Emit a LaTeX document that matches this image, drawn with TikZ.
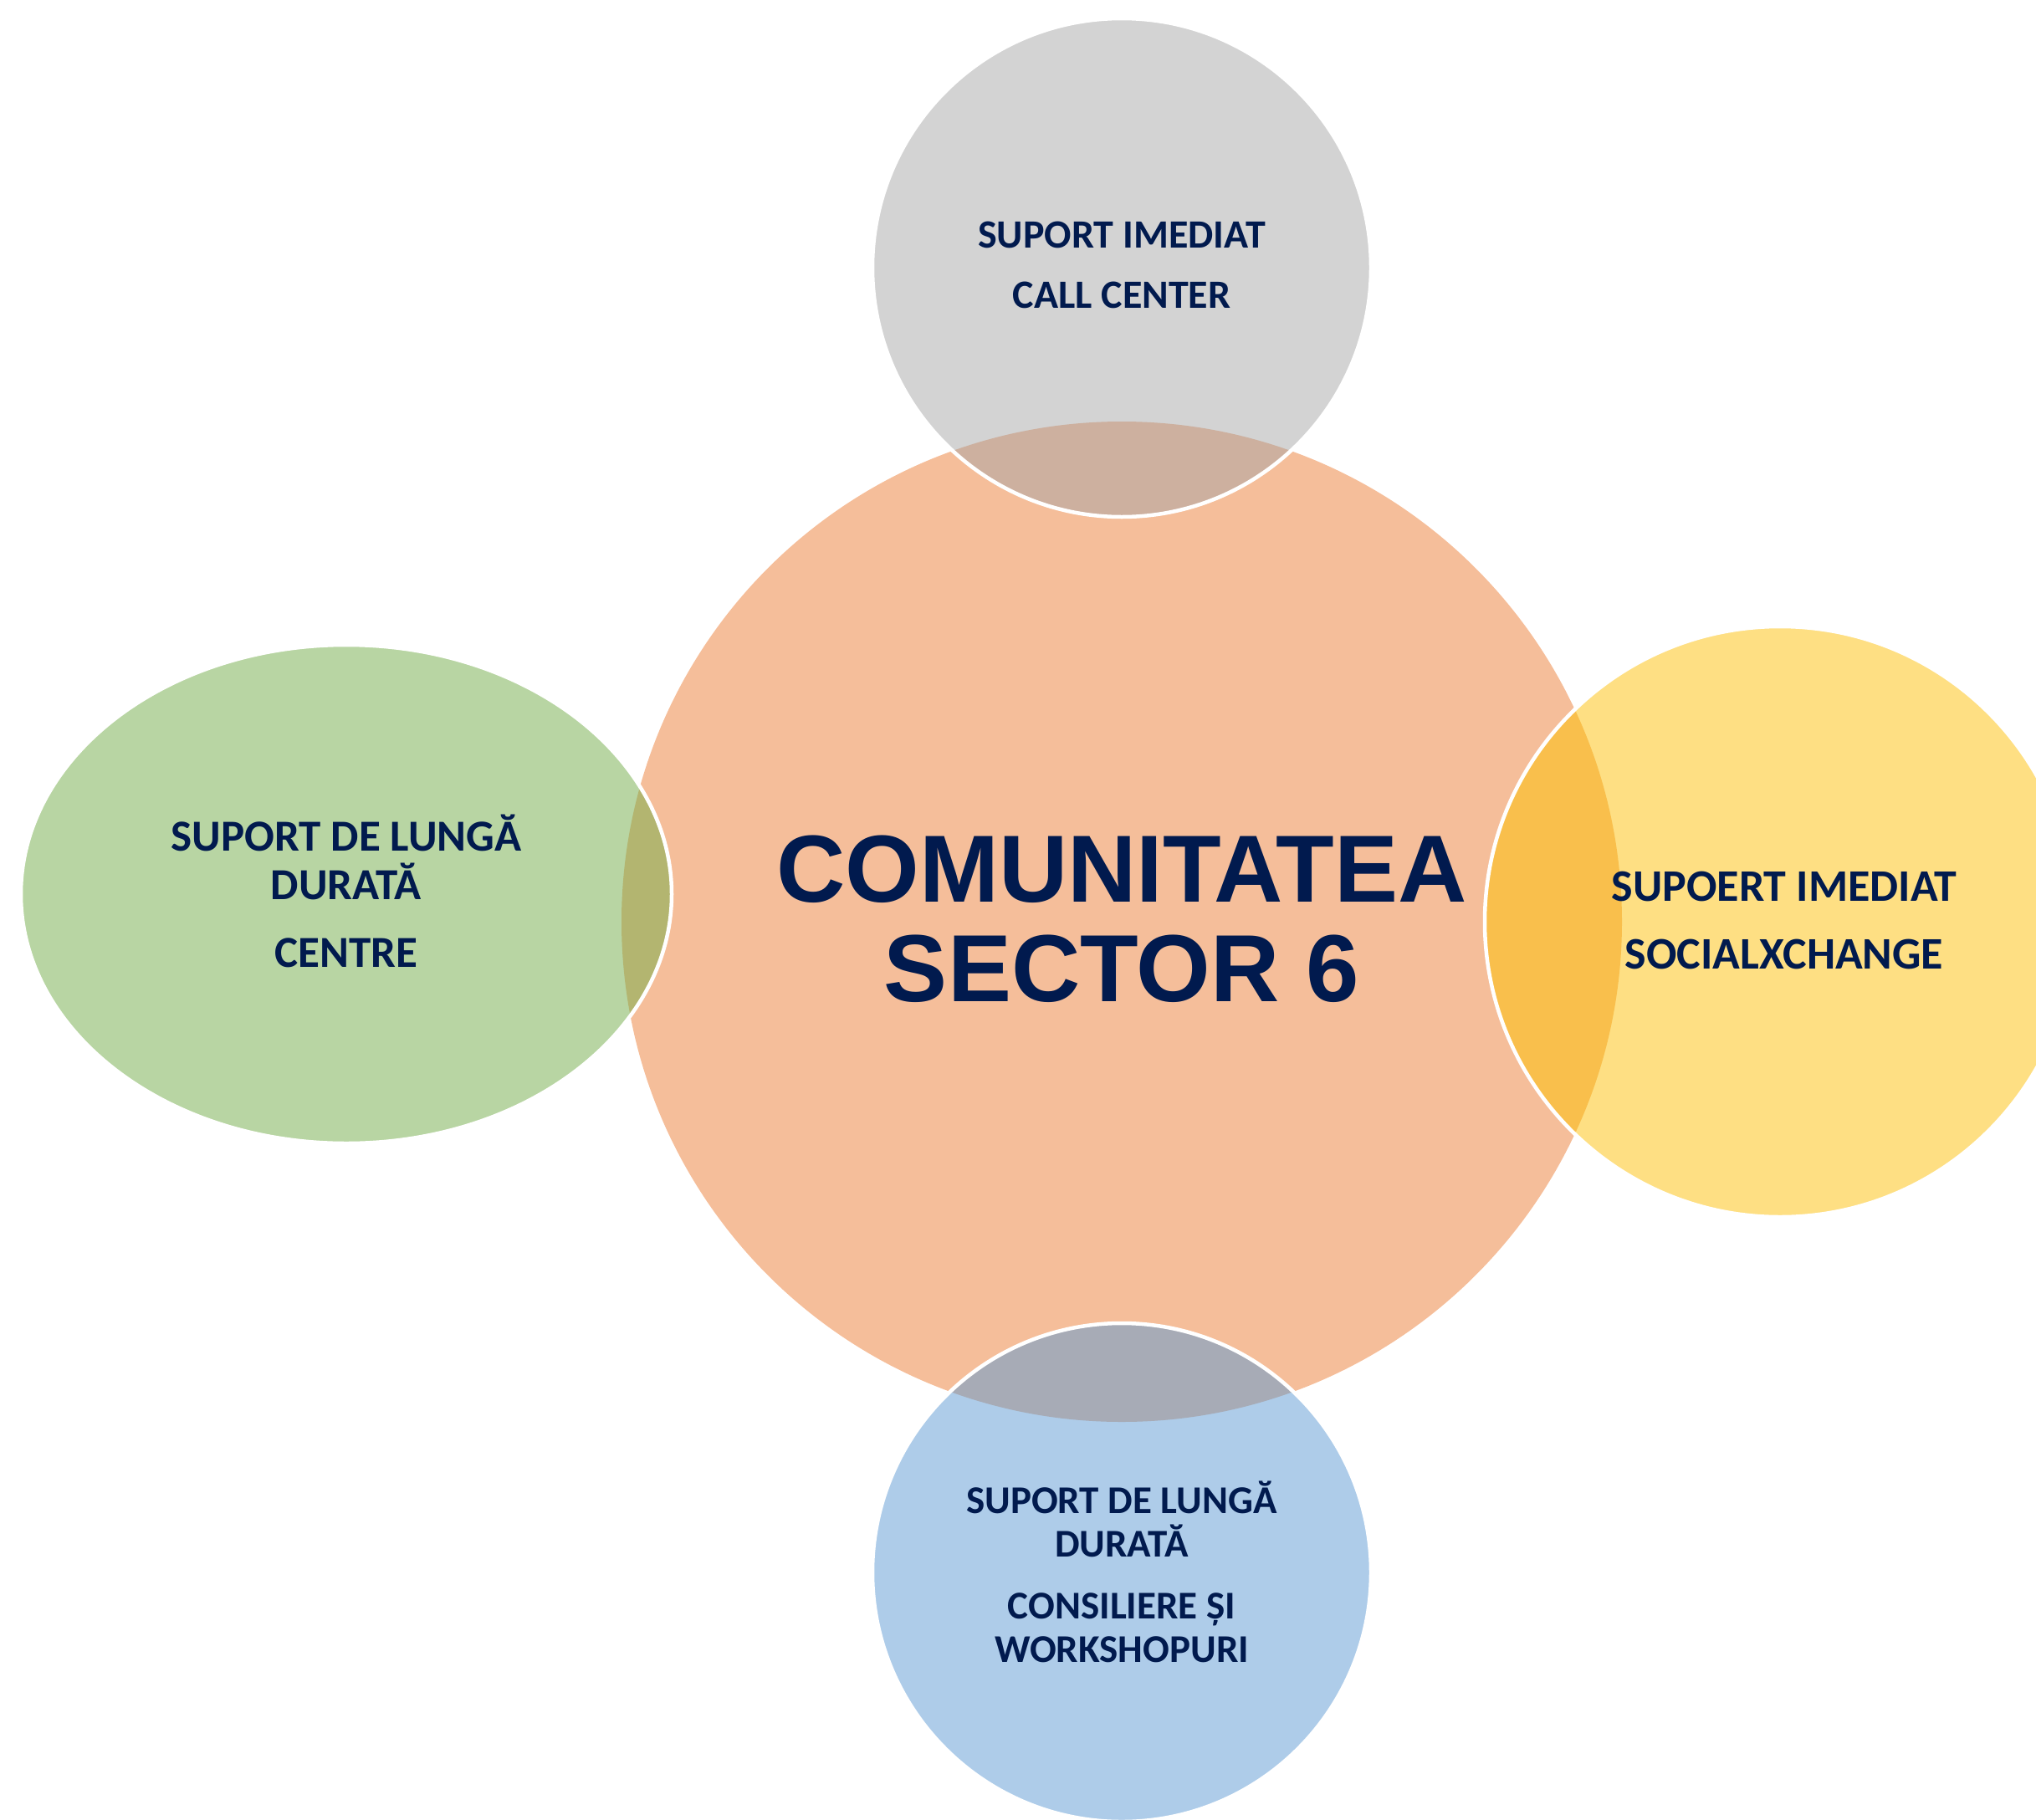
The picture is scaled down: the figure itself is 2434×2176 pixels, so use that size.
\documentclass[tikz,border=0pt]{standalone}
\usepackage{fontspec}
\setmainfont{Carlito}
\newfontfamily\arialfont{Liberation Sans}
\definecolor{navy}{HTML}{011A4E}
\definecolor{corefill}{HTML}{F5BE9A}
\definecolor{greyfill}{HTML}{D3D3D3}
\definecolor{greyov}{HTML}{CDB09F}
\definecolor{yellowfill}{HTML}{FEDF83}
\definecolor{yellowov}{HTML}{F9BF4C}
\definecolor{greenfill}{HTML}{B8D5A3}
\definecolor{greenov}{HTML}{B3B570}
\definecolor{bluefill}{HTML}{AECCE9}
\definecolor{blueov}{HTML}{A7ABB6}
\begin{document}
\begin{tikzpicture}[x=1pt,y=-1pt,
  lbl/.style={anchor=base,inner sep=0pt,text=navy,font=\bfseries\fontsize{#1}{#1}\selectfont},
  bigl/.style={anchor=base,inner sep=0pt,text=navy,font=\arialfont\bfseries\fontsize{114}{114}\selectfont},
  rim/.style={draw=white,line width=4.5pt}]
\useasboundingbox (0,0) rectangle (2434,2176);
\clip (0,0) rectangle (2434,2176);
% core
\fill[corefill] (1341,1102) circle[radius=598pt];
% satellites
\fill[greyfill] (1341,320) circle[radius=298pt];
\fill[yellowfill] (2128,1102) circle[radius=353pt];
\fill[greenfill] (414,1069) ellipse[x radius=389pt,y radius=298pt];
\fill[bluefill] (1341,1880) circle[radius=298pt];
% overlaps
\begin{scope}
  \clip (1341,1102) circle[radius=598pt];
  \fill[greyov] (1341,320) circle[radius=298pt];
  \fill[yellowov] (2128,1102) circle[radius=353pt];
  \fill[greenov] (414,1069) ellipse[x radius=389pt,y radius=298pt];
  \fill[blueov] (1341,1880) circle[radius=298pt];
\end{scope}
% rims
\draw[rim] (1341,320) circle[radius=298pt];
\draw[rim] (2128,1102) circle[radius=353pt];
\draw[rim] (414,1069) ellipse[x radius=389pt,y radius=298pt];
\draw[rim] (1341,1880) circle[radius=298pt];
% texts
\node[bigl] (c1) at (1341,1078) {COMUNITATEA};
\node[bigl] (c2) at (1341,1197) {SECTOR 6};
\node[lbl=48] (t1) at (1341,296) {SUPORT IMEDIAT};
\node[lbl=48] (t2) at (1341,368) {CALL CENTER};
\node[lbl=53] (l1) at (414,1017) {SUPORT DE LUNGĂ};
\node[lbl=53] (l2) at (414,1075) {DURATĂ};
\node[lbl=53] (l3) at (414,1156) {CENTRE};
\node[lbl=54] (r1) at (2133,1077) {SUPOERT IMEDIAT};
\node[lbl=54] (r2) at (2133,1158) {SOCIALXCHANGE};
\node[lbl=47] (b1) at (1341,1809) {SUPORT DE LUNGĂ};
\node[lbl=47] (b2) at (1341,1861) {DURATĂ};
\node[lbl=47] (b3) at (1341,1935) {CONSILIERE ȘI};
\node[lbl=47] (b4) at (1341,1987) {WORKSHOPURI};
\end{tikzpicture}
\end{document}
